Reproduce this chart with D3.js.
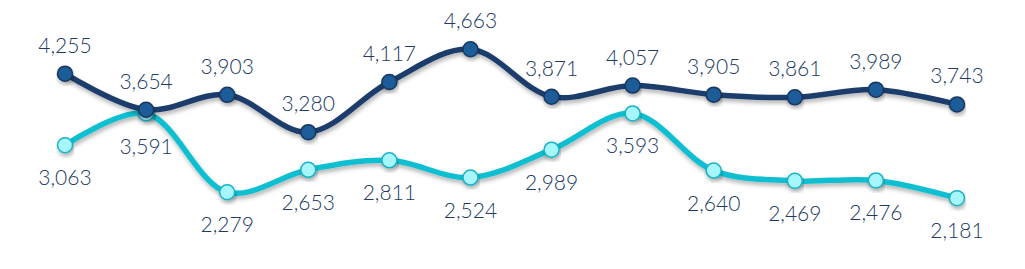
<!DOCTYPE html>
<html>
<head>
<meta charset="utf-8">
<script src="https://cdn.jsdelivr.net/npm/d3@7"></script>
<style>
  body { margin: 0; background: #fff; }
  text { font-family: Lato, "Open Sans", sans-serif; }
</style>
</head>
<body>
<div id="chart"></div>
<script>
// data
var points = [0, 1, 2, 3, 4, 5, 6, 7, 8, 9, 10, 11];
var seriesA = [4255, 3654, 3903, 3280, 4117, 4663, 3871, 4057, 3905, 3861, 3989, 3743];
var seriesB = [3063, 3591, 2279, 2653, 2811, 2524, 2989, 3593, 2640, 2469, 2476, 2181];

var width = 1025;
var height = 269;

var svg = d3.select('#chart').append('svg')
  .attr('width', width)
  .attr('height', height);

var defs = svg.append('defs');
var shadow = defs.append('filter')
  .attr('id', 'shadow')
  .attr('x', '-10%').attr('y', '-30%')
  .attr('width', '120%').attr('height', '160%');
shadow.append('feDropShadow')
  .attr('dx', 1).attr('dy', 3)
  .attr('stdDeviation', 2)
  .attr('flood-color', '#000')
  .attr('flood-opacity', 0.3);

var x = d3.scalePoint()
  .domain(points)
  .range([65, 957]);

var y = d3.scaleLinear()
  .domain([0, 5000])
  .range([329, 29]);

var fmt = d3.format(',');

var line = d3.line()
  .x(function(d, i) { return x(points[i]); })
  .y(function(d) { return y(d); })
  .curve(d3.curveCatmullRom.alpha(0.5));

var series = [
  { values: seriesB, stroke: '#0fbfd0', fill: '#a6f6fc', edge: '#19b3c6', labelDy: 40 },
  { values: seriesA, stroke: '#1c3e6c', fill: '#1f5b98', edge: '#17375f', labelDy: -21 }
];

series.forEach(function(s) {
  var g = svg.append('g');

  g.append('path')
    .datum(s.values)
    .attr('d', line)
    .attr('fill', 'none')
    .attr('stroke', s.stroke)
    .attr('stroke-width', 5.5)
    .attr('stroke-linejoin', 'round')
    .attr('filter', 'url(#shadow)');

  g.selectAll('circle')
    .data(s.values)
    .enter().append('circle')
    .attr('cx', function(d, i) { return x(points[i]); })
    .attr('cy', function(d) { return y(d); })
    .attr('r', 7.5)
    .attr('fill', s.fill)
    .attr('stroke', s.edge)
    .attr('stroke-width', 1.5)
    .attr('filter', 'url(#shadow)');
});

series.forEach(function(s) {
  svg.append('g').selectAll('text')
    .data(s.values)
    .enter().append('text')
    .attr('x', function(d, i) { return x(points[i]); })
    .attr('y', function(d) { return y(d) + s.labelDy; })
    .attr('text-anchor', 'middle')
    .attr('font-size', 21)
    .attr('font-weight', 300)
    .attr('fill', '#203a63')
    .text(function(d) { return fmt(d); });
});
</script>
</body>
</html>
